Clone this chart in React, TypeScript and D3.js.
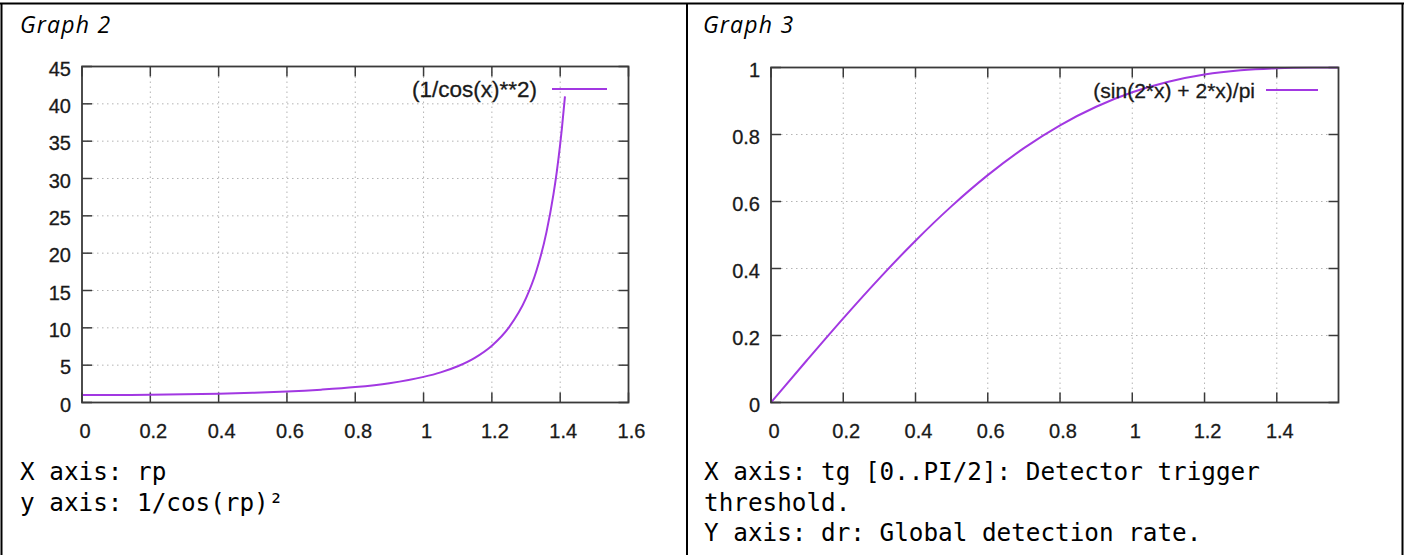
import React from 'react';
import * as d3 from 'd3';

// Graph 2: (1/cos(x)**2)
const g2X = [0, 0.1, 0.2, 0.3, 0.4, 0.5, 0.6, 0.7, 0.8, 0.9, 1.0, 1.05, 1.1, 1.15, 1.2, 1.25, 1.3, 1.33, 1.36, 1.38, 1.39, 1.4, 1.405, 1.414];
const g2Y = [1.0, 1.01, 1.04, 1.1, 1.18, 1.3, 1.47, 1.72, 2.06, 2.59, 3.43, 4.04, 4.86, 5.99, 7.61, 10.06, 13.97, 17.58, 22.85, 27.8, 30.9, 34.6, 36.7, 41.0];
const g2XTicks = [0, 0.2, 0.4, 0.6, 0.8, 1, 1.2, 1.4, 1.6];
const g2YTicks = [0, 5, 10, 15, 20, 25, 30, 35, 40, 45];

// Graph 3: (sin(2*x) + 2*x)/pi
const g3X = [0, 0.1, 0.2, 0.3, 0.4, 0.5, 0.6, 0.7, 0.8, 0.9, 1.0, 1.1, 1.2, 1.3, 1.4, 1.5, 1.5708];
const g3Y = [0, 0.1269, 0.2513, 0.3707, 0.483, 0.5862, 0.6787, 0.7593, 0.8275, 0.8829, 0.9261, 0.9576, 0.979, 0.9917, 0.9979, 0.9998, 1.0];
const g3XTicks = [0, 0.2, 0.4, 0.6, 0.8, 1, 1.2, 1.4];
const g3YTicks = [0, 0.2, 0.4, 0.6, 0.8, 1];

const titles = ['Graph 2', 'Graph 3'];
const legends = ['(1/cos(x)**2)', '(sin(2*x) + 2*x)/pi'];
const notes2 = ['X axis: rp', 'y axis: 1/cos(rp)²'];
const notes3 = ['X axis: tg [0..PI/2]: Detector trigger', 'threshold.', 'Y axis: dr: Global detection rate.'];

const CURVE = '#a238e2';
const FRAME = '#3a3a3a';
const GRID = '#b4b4b4';
const TICKFONT = '"Liberation Sans", Arial, sans-serif';

function fmt(v: number) {
  return String(+v.toFixed(2));
}

function Plot(props: {
  left: number; right: number; top: number; bottom: number;
  xDomain: [number, number]; yDomain: [number, number];
  xs: number[]; ys: number[]; xTicks: number[]; yTicks: number[];
  legend: string; legendTextEnd: number; legendLine: [number, number]; legendY: number; legendSize: number;
}) {
  const { left, right, top, bottom, xDomain, yDomain, xs, ys, xTicks, yTicks, legend, legendTextEnd, legendLine, legendY, legendSize } = props;
  const x = d3.scaleLinear().domain(xDomain).range([left, right]);
  const y = d3.scaleLinear().domain(yDomain).range([bottom, top]);
  const pts: [number, number][] = xs.map((v, i) => [v, ys[i]]);
  const line = d3.line<[number, number]>().x(d => x(d[0])).y(d => y(d[1])).curve(d3.curveMonotoneX);
  const T = 10;
  const clipId = 'clip' + Math.round(left);
  const lbl = { fontFamily: TICKFONT, fontSize: 20, fill: '#1a1a1a', stroke: '#1a1a1a', strokeWidth: 0.3 } as const;
  return (
    <g>
      <defs>
        <clipPath id={clipId}>
          <rect x={left} y={top - 1} width={right - left} height={bottom - top + 2} />
        </clipPath>
      </defs>
      {/* grid */}
      {xTicks.filter(t => t > xDomain[0] + 1e-9 && t < xDomain[1] - 1e-9).map(t => (
        <line key={'gx' + t} x1={x(t)} x2={x(t)} y1={top} y2={bottom} stroke={GRID} strokeWidth={1} strokeDasharray="1.5,3.5" />
      ))}
      {yTicks.filter(t => t > yDomain[0] + 1e-9 && t < yDomain[1] - 1e-9).map(t => (
        <line key={'gy' + t} x1={left} x2={right} y1={y(t)} y2={y(t)} stroke={GRID} strokeWidth={1} strokeDasharray="1.5,3.5" />
      ))}
      {/* ticks (mirrored) */}
      {xTicks.map(t => (
        <g key={'tx' + t}>
          <line x1={x(t)} x2={x(t)} y1={bottom} y2={bottom - T} stroke={FRAME} strokeWidth={1.5} />
          <line x1={x(t)} x2={x(t)} y1={top} y2={top + T} stroke={FRAME} strokeWidth={1.5} />
          <text x={x(t) + 3} y={bottom + 35} textAnchor="middle" {...lbl}>{fmt(t)}</text>
        </g>
      ))}
      {yTicks.map(t => (
        <g key={'ty' + t}>
          <line x1={left} x2={left + T} y1={y(t)} y2={y(t)} stroke={FRAME} strokeWidth={1.5} />
          <line x1={right} x2={right - T} y1={y(t)} y2={y(t)} stroke={FRAME} strokeWidth={1.5} />
          <text x={left - 11} y={y(t) + 9} textAnchor="end" {...lbl}>{fmt(t)}</text>
        </g>
      ))}
      {/* curve */}
      <path d={line(pts) || ''} fill="none" stroke={CURVE} strokeWidth={2} clipPath={`url(#${clipId})`} />
      {/* frame */}
      <rect x={left} y={top} width={right - left} height={bottom - top} fill="none" stroke={FRAME} strokeWidth={1.8} />
      {/* legend */}
      <text x={legendTextEnd} y={legendY + 7.5} textAnchor="end" {...lbl} fontSize={legendSize}>{legend}</text>
      <line x1={legendLine[0]} x2={legendLine[1]} y1={legendY} y2={legendY} stroke={CURVE} strokeWidth={2} />
    </g>
  );
}

export default function App() {
  const W = 1405, H = 555;
  const mono = '"DejaVu Sans Mono", "Liberation Mono", monospace';
  const titleFont = '"Open Sans", "Noto Sans", sans-serif';
  return (
    <svg width={W} height={H} style={{ position: 'absolute', left: 0, top: 0, background: '#fff' }}>
      <rect x={0} y={0} width={W} height={H} fill="#fff" />
      {/* table borders */}
      <line x1={0} x2={1404} y1={3.5} y2={3.5} stroke="#000" strokeWidth={2} />
      <line x1={1.5} x2={1.5} y1={3} y2={H} stroke="#000" strokeWidth={2} />
      <line x1={687} x2={687} y1={3} y2={H} stroke="#000" strokeWidth={2} />
      <line x1={1402.5} x2={1402.5} y1={3} y2={H} stroke="#000" strokeWidth={2} />

      <text x={20} y={33} fontFamily={titleFont} fontStyle="italic" fontSize={23} letterSpacing={1.2} fill="#000">{titles[0]}</text>
      <text x={703} y={33} fontFamily={titleFont} fontStyle="italic" fontSize={23} letterSpacing={1.2} fill="#000">{titles[1]}</text>

      <Plot left={82} right={628.5} top={66.5} bottom={402.5}
        xDomain={[0, 1.6]} yDomain={[0, 45]} xs={g2X} ys={g2Y} xTicks={g2XTicks} yTicks={g2YTicks}
        legend={legends[0]} legendTextEnd={537} legendLine={[552, 607]} legendY={89} legendSize={22.5} />
      <Plot left={771} right={1338.5} top={67.5} bottom={402.5}
        xDomain={[0, 1.5708]} yDomain={[0, 1]} xs={g3X} ys={g3Y} xTicks={g3XTicks} yTicks={g3YTicks}
        legend={legends[1]} legendTextEnd={1255} legendLine={[1266, 1318]} legendY={90} legendSize={21} />

      {notes2.map((s, i) => (
        <text key={'n2' + i} x={20} y={480 + i * 30.5} fontFamily={mono} fontSize={24.3} fill="#000" xmlSpace="preserve">{s}</text>
      ))}
      {notes3.map((s, i) => (
        <text key={'n3' + i} x={704} y={480 + i * 30.5} fontFamily={mono} fontSize={24.3} fill="#000" xmlSpace="preserve">{s}</text>
      ))}
    </svg>
  );
}
